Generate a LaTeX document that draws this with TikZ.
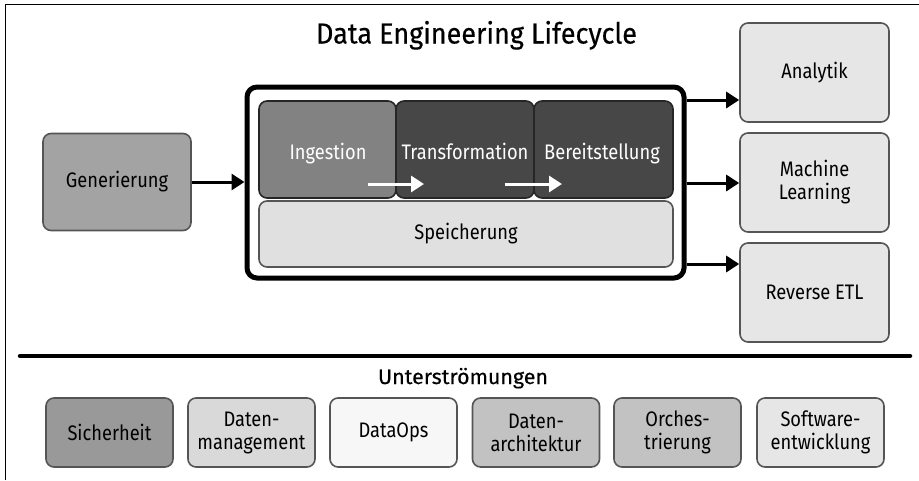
\documentclass[tikz,border=0pt]{standalone}
\usepackage{fontspec}
\setmainfont{Fira Sans}[FakeStretch=0.87]
\newfontfamily\titlefont{Fira Sans}[FakeStretch=0.93,FakeBold=0.4]
\newfontfamily\subfont{Fira Sans}[FakeStretch=1.02,FakeBold=0.4]
\usetikzlibrary{arrows.meta,positioning}
\definecolor{cgen}{HTML}{A3A3A3}
\definecolor{cing}{HTML}{828282}
\definecolor{cdark}{HTML}{474747}
\definecolor{cspe}{HTML}{E0E0E0}
\definecolor{clight}{HTML}{E6E6E6}
\definecolor{csich}{HTML}{999999}
\definecolor{cdm}{HTML}{D9D9D9}
\definecolor{cops}{HTML}{F7F7F7}
\definecolor{carch}{HTML}{C2C2C2}
\definecolor{cbord}{HTML}{555555}
\begin{document}
\begin{tikzpicture}[x=1pt,y=-1pt,
  box/.style={draw=cbord,line width=1.6pt,rounded corners=8pt,align=center,
    inner sep=0pt,font=\fontsize{21}{23}\selectfont,text=black},
  darkbox/.style={box,draw=black!85,text=white},
  lbl/.style={text=white,font=\fontsize{21}{23}\selectfont,anchor=base,inner sep=0pt},
  conn/.style={line width=3pt,-{Triangle[length=13pt,width=16pt]}},
  wconn/.style={white,line width=3pt,-{Triangle[length=13pt,width=16pt]}}]
\useasboundingbox (0,0) rectangle (919,480);
% frame (top and left)
\draw[line width=1pt] (5,480) -- (5,4) -- (925,4);
% title
\node[anchor=base,inner sep=0pt] (title) at (476.5,43.5) {\fontsize{29}{30}\titlefont Data Engineering Lifecycle};
% generation
\node[box,fill=cgen,minimum width=148pt,minimum height=97pt] (gen) at (117,182) {Generierung};
% lifecycle frame
\node[draw=black,line width=5pt,rounded corners=10pt,minimum width=437pt,minimum height=191pt,inner sep=0pt] (life) at (465.5,182.5) {};
\node[darkbox,fill=cing,minimum width=137pt,minimum height=97pt] (ing) at (327.5,149.5) {};
\node[darkbox,fill=cdark,minimum width=138pt,minimum height=97pt] (trans) at (465,149.5) {};
\node[darkbox,fill=cdark,minimum width=139pt,minimum height=97pt] (bere) at (603.5,149.5) {};
\node[box,fill=cspe,minimum width=414pt,minimum height=66pt] (spe) at (466,234) {Speicherung};
\node[lbl] (ingt) at (328,159) {Ingestion};
\node[lbl] (transt) at (465,159) {Transformation};
\node[lbl] (beret) at (602,159) {Bereitstellung};
\coordinate (w1s) at (368,184); \coordinate (w1e) at (424,184);
\coordinate (w2s) at (505,184); \coordinate (w2e) at (562,184);
\draw[wconn] (w1s) -- (w1e);
\draw[wconn] (w2s) -- (w2e);
% outputs
\node[box,fill=clight,minimum width=149pt,minimum height=99pt] (ana) at (814.5,72.5) {Analytik};
\node[box,fill=clight,minimum width=149pt,minimum height=99pt] (ml) at (814.5,182.5) {Machine\\Learning};
\node[box,fill=clight,minimum width=149pt,minimum height=99pt] (retl) at (814.5,292.5) {Reverse ETL};
\draw[conn] (gen.east) -- (gen.east -| life.west);
\draw[conn] (life.east |- 0,100) -- (ana.west |- 0,100);
\draw[conn] (life.east |- 0,183) -- (ml.west |- 0,183);
\draw[conn] (life.east |- 0,264) -- (retl.west |- 0,264);
% separator
\coordinate (sepl) at (20,356); \coordinate (sepr) at (910,356);
\draw[line width=4.5pt,line cap=round] (sepl) -- (sepr);
\node[anchor=base,inner sep=0pt] (under) at (463,384) {\fontsize{21}{22}\subfont Unterströmungen};
% undercurrents
\tikzset{ubox/.style={box,minimum width=127pt,minimum height=69pt}}
\node[ubox,fill=csich] (u1) at (109.5,432.5) {Sicherheit};
\node[ubox,fill=cdm] (u2) at (251.5,432.5) {Daten-\\management};
\node[ubox,fill=cops] (u3) at (393.5,432.5) {DataOps};
\node[ubox,fill=carch] (u4) at (536,432.5) {Daten-\\architektur};
\node[ubox,fill=carch] (u5) at (677.5,432.5) {Orches-\\trierung};
\node[ubox,fill=clight] (u6) at (820.5,432.5) {Software-\\entwicklung};
\end{tikzpicture}
\end{document}
